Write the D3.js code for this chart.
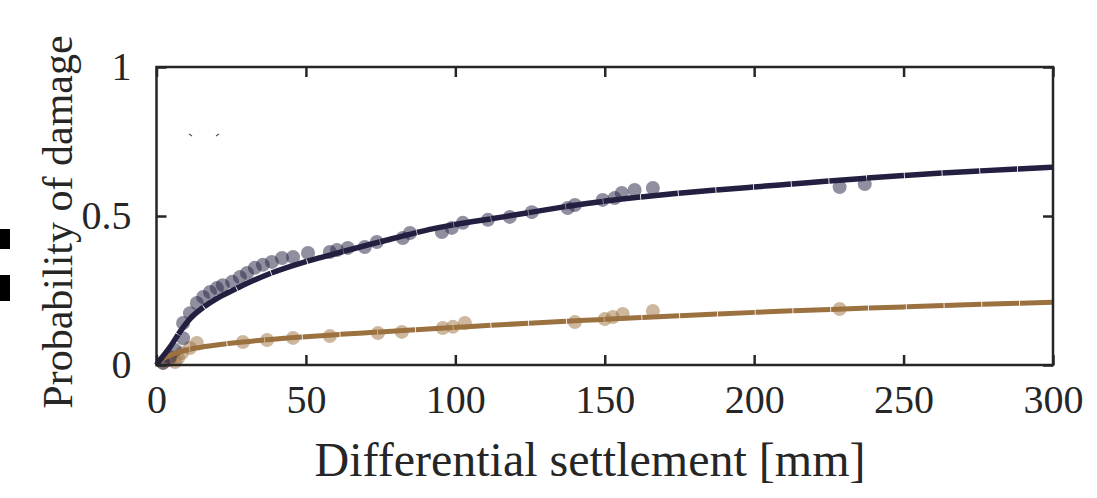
<!DOCTYPE html>
<html>
<head>
<meta charset="utf-8">
<script src="https://cdn.jsdelivr.net/npm/d3@7"></script>
<style>
  body { margin: 0; background: #fff; }
  svg { display: block; }
  .tick text { font-family: "Liberation Serif", "DejaVu Serif", serif; fill: #262626; }
</style>
</head>
<body>
<div id="c"></div>
<script>
// observed points, dark series (settlement mm, probability)
var dark_x = [2.2, 4.5, 6.2, 8.9, 8.9, 11.2, 13.5, 15.6, 17.9, 20.2, 22.2, 25.3, 27.9, 30.3, 32.9, 35.6,
	38.6, 42.0, 45.7, 50.7, 58.0, 60.4, 64.0, 69.7, 73.7, 82.4, 84.8, 95.5, 98.8, 102.5, 110.9, 118.2,
	125.6, 137.6, 140.0, 149.3, 153.3, 155.7, 160.0, 166.1, 228.6, 237.0];
var dark_p = [0.007, 0.027, 0.05, 0.09, 0.141, 0.174, 0.208, 0.228, 0.245, 0.258, 0.268, 0.279, 0.295, 0.309, 0.326, 0.336,
	0.346, 0.359, 0.362, 0.376, 0.379, 0.386, 0.393, 0.396, 0.413, 0.426, 0.443, 0.446, 0.460, 0.477, 0.487, 0.497,
	0.513, 0.527, 0.537, 0.554, 0.560, 0.577, 0.587, 0.594, 0.597, 0.607];

// observed points, light series
var light_x = [2.2, 4.5, 6.2, 7.2, 8.5, 11.2, 13.5, 28.9, 37.0, 45.7, 58.0, 74.1, 82.1, 95.8, 99.2, 103.2,
	140.0, 150.0, 152.7, 156.0, 166.1, 228.6];
var light_p = [0.007, 0.017, 0.01, 0.023, 0.04, 0.057, 0.074, 0.077, 0.084, 0.091, 0.097, 0.107, 0.111, 0.124, 0.128, 0.141,
	0.144, 0.154, 0.161, 0.171, 0.181, 0.188];

// fitted curves
var dark_fit_x = [0, 1.2, 4.5, 7.9, 11.2, 15.6, 20, 25, 37, 50, 58, 74.7, 91.5, 116, 144, 172, 208.5, 250, 300];
var dark_fit_p = [0, 0.017, 0.06, 0.112, 0.155, 0.193, 0.222, 0.248, 0.303, 0.347, 0.369, 0.413, 0.455, 0.497, 0.542, 0.574, 0.604, 0.636, 0.664];
var light_fit_x = [0, 1, 4.5, 8.9, 14.5, 25.6, 37, 50, 74.7, 108, 141.6, 208.5, 250, 300];
var light_fit_p = [0, 0.012, 0.032, 0.047, 0.059, 0.074, 0.085, 0.095, 0.111, 0.131, 0.149, 0.18, 0.195, 0.211];

var x_ticks = [0, 50, 100, 150, 200, 250, 300];
var y_ticks = [0, 0.5, 1];
var y_tick_labels = ["0", "0.5", "1"];

var dark_col = "#221f41";
var light_col = "#9b7140";

var width = 1097, height = 498;
var p_left = 156.5, p_right = 1053, p_top = 67, p_bottom = 365;

var svg = d3.select("#c").append("svg")
	.attr("width", width)
	.attr("height", height);

var x_scale = d3.scaleLinear().domain([0, 300]).range([p_left, p_right]);
var y_scale = d3.scaleLinear().domain([0, 1]).range([p_bottom, p_top]);

// stray marks at the left edge
svg.append("rect").attr("x", 0).attr("y", 229).attr("width", 10).attr("height", 20).attr("fill", "#000");
svg.append("rect").attr("x", 0).attr("y", 275).attr("width", 10).attr("height", 26).attr("fill", "#000");

function pts(xs, ys) { return xs.map(function(v, i) { return [v, ys[i]]; }); }

// dots
svg.append("g").selectAll("circle")
	.data(pts(light_x, light_p))
	.enter().append("circle")
	.attr("cx", function(d) { return x_scale(d[0]); })
	.attr("cy", function(d) { return y_scale(d[1]); })
	.attr("r", 7)
	.attr("fill", light_col)
	.attr("fill-opacity", 0.5);

svg.append("g").selectAll("circle")
	.data(pts(dark_x, dark_p))
	.enter().append("circle")
	.attr("cx", function(d) { return x_scale(d[0]); })
	.attr("cy", function(d) { return y_scale(d[1]); })
	.attr("r", 7)
	.attr("fill", dark_col)
	.attr("fill-opacity", 0.5);

var line = d3.line()
	.x(function(d) { return x_scale(d[0]); })
	.y(function(d) { return y_scale(d[1]); })
	.curve(d3.curveMonotoneX);

svg.append("path")
	.attr("d", line(pts(light_fit_x, light_fit_p)))
	.attr("fill", "none")
	.attr("stroke", light_col)
	.attr("stroke-width", 5)
	.attr("stroke-dasharray", "37,0.8");

svg.append("path")
	.attr("d", line(pts(dark_fit_x, dark_fit_p)))
	.attr("fill", "none")
	.attr("stroke", dark_col)
	.attr("stroke-width", 5.5)
	.attr("stroke-dasharray", "37,0.8");

// small leftover legend marks
svg.append("path").attr("d", "M189,134 L192,136").attr("stroke", "#555").attr("stroke-width", 1.2);
svg.append("path").attr("d", "M216,136 L219,134").attr("stroke", "#555").attr("stroke-width", 1.2);

// axes, ticks inside on all four sides
var fs = 40;
var ax_b = svg.append("g")
	.attr("transform", "translate(0," + p_bottom + ")")
	.call(d3.axisBottom(x_scale).tickValues(x_ticks).tickSize(-10).tickPadding(20).tickFormat(d3.format("d")));
var ax_t = svg.append("g")
	.attr("transform", "translate(0," + p_top + ")")
	.call(d3.axisTop(x_scale).tickValues(x_ticks).tickSize(-10).tickFormat(""));
var ax_l = svg.append("g")
	.attr("transform", "translate(" + p_left + ",0)")
	.call(d3.axisLeft(y_scale).tickValues(y_ticks).tickSize(-10).tickPadding(25)
		.tickFormat(function(d, i) { return y_tick_labels[i]; }));
var ax_r = svg.append("g")
	.attr("transform", "translate(" + p_right + ",0)")
	.call(d3.axisRight(y_scale).tickValues(y_ticks).tickSize(-10).tickFormat(""));

[ax_b, ax_t, ax_l, ax_r].forEach(function(a) {
	a.select(".domain").remove();
	a.selectAll(".tick line").attr("stroke", "#262626").attr("stroke-width", 2.5);
	a.selectAll(".tick text").attr("font-size", fs);
});

svg.append("rect")
	.attr("x", p_left).attr("y", p_top)
	.attr("width", p_right - p_left).attr("height", p_bottom - p_top)
	.attr("fill", "none")
	.attr("stroke", "#262626")
	.attr("stroke-width", 2.5);

svg.append("text")
	.attr("x", 590)
	.attr("y", 476)
	.attr("text-anchor", "middle")
	.attr("font-family", "Liberation Serif, serif")
	.attr("font-size", 48)
	.attr("fill", "#262626")
	.text("Differential settlement [mm]");

svg.append("text")
	.attr("transform", "translate(72," + 222 + ") rotate(-90)")
	.attr("text-anchor", "middle")
	.attr("font-family", "Liberation Serif, serif")
	.attr("font-size", 42)
	.attr("fill", "#262626")
	.text("Probability of damage");
</script>
</body>
</html>
